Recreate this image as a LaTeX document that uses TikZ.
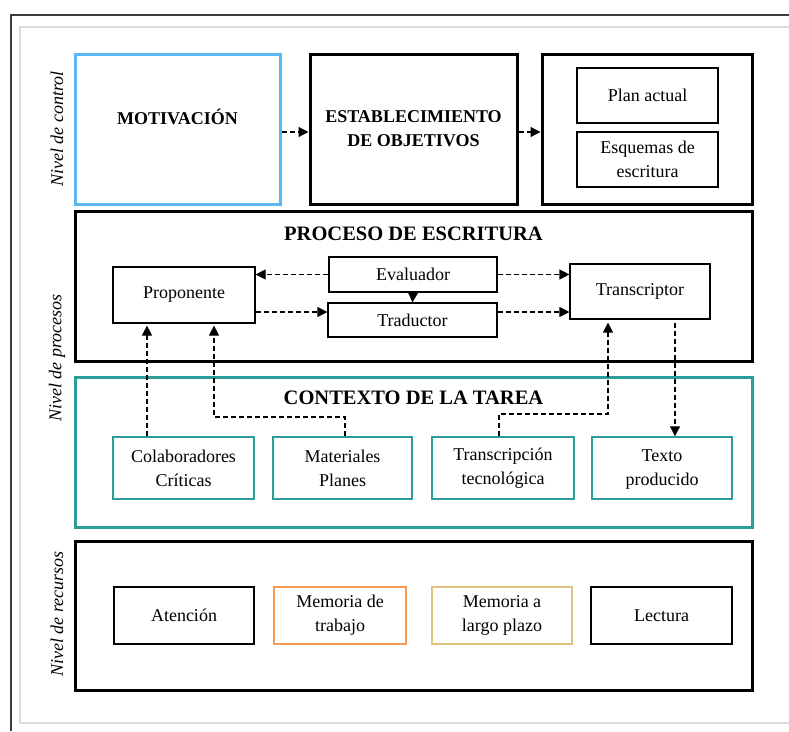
\documentclass[tikz,border=0pt]{standalone}
\usepackage{fontspec}
\setmainfont{Liberation Serif}
\usetikzlibrary{arrows.meta}

\definecolor{framedark}{HTML}{3C3C3C}
\definecolor{framelight}{HTML}{DCDCDC}
\definecolor{skyblue}{HTML}{5CB6F2}
\definecolor{tealc}{HTML}{2A9D99}
\definecolor{orangec}{HTML}{F59A55}
\definecolor{tanc}{HTML}{E2C27F}

\tikzset{
  level/.style={draw, line width=3pt, rectangle, inner sep=0pt},
  titletext/.style={font=\fontsize{20.5}{24}\selectfont\bfseries},
  bigtext/.style={font=\fontsize{18}{24}\selectfont\bfseries, align=center},
  item/.style={draw, line width=1.2pt, rectangle, align=center, inner sep=0pt,
    font=\fontsize{18}{24}\selectfont},
  ctxitem/.style={item, draw=tealc, line width=1.5pt},
  sidelabel/.style={rotate=90, font=\fontsize{18}{22}\selectfont\itshape},
  flow/.style={dashed, dash pattern=on 5pt off 3pt, line width=1.2pt,
    -{Triangle[length=10pt,width=10pt]}},
}

\begin{document}
\begin{tikzpicture}[x=1pt, y=-1pt]
\useasboundingbox (0,0) rectangle (789,731);

% page frames
\draw[framelight, line width=1.5pt] (789,27) -- (20,27) -- (20,723) -- (789,723);
\draw[framedark, line width=2pt] (11,731) -- (11,15) -- (789,15);

% level labels
\node[sidelabel] (lc) at (57,129) {Nivel de control};
\node[sidelabel] (lp) at (57,358) {Nivel de procesos};
\node[sidelabel] (lr) at (57,614) {Nivel de recursos};

% control level
\node[level, draw=skyblue, minimum width=205pt, minimum height=150pt] (motiv) at (177.5,129) {};
\node[bigtext] (motivt) at (177.5,117) {MOTIVACIÓN};
\node[level, minimum width=207pt, minimum height=150pt, bigtext] (estab) at (413.5,129) {ESTABLECIMIENTO\\DE OBJETIVOS};
\node[level, minimum width=210pt, minimum height=150pt] (planes) at (647,129) {};
\node[item, minimum width=141pt, minimum height=55pt] (plan) at (647.5,95.5) {Plan actual};
\node[item, minimum width=141pt, minimum height=55pt] (esq) at (647.5,159.5) {Esquemas de\\escritura};

\draw[flow] ([yshift=-3pt]motiv.east) -- ([yshift=-3pt]estab.west);
\draw[flow] ([yshift=-3pt]estab.east) -- ([yshift=-3pt]planes.west);

% process level
\node[level, minimum width=677pt, minimum height=150pt] (proc) at (413.5,286) {};
\node[titletext] (proct) at (413.5,234) {PROCESO DE ESCRITURA};
\node[item, minimum width=142pt, minimum height=56pt] (prop) at (184,295) {Proponente};
\node[item, minimum width=168pt, minimum height=35pt] (eval) at (413,274.5) {Evaluador};
\node[item, minimum width=169pt, minimum height=34pt] (trad) at (412.5,320) {Traductor};
\node[item, minimum width=140pt, minimum height=55pt] (trans) at (640,291.5) {Transcriptor};

\coordinate (ya) at (0,312);
\draw[flow] (eval.west) -- (prop.east |- eval.west);
\draw[flow] (prop.east |- ya) -- (trad.west |- ya);
\draw[flow] (eval.east) -- (trans.west |- eval.east);
\draw[flow] (trad.east |- ya) -- (trans.west |- ya);
\draw[flow] (eval.south) -- (trad.north);

% task context level
\node[level, draw=tealc, minimum width=677pt, minimum height=150pt] (ctx) at (413.5,452) {};
\node[titletext] (ctxt) at (413.5,398) {CONTEXTO DE LA TAREA};
\node[ctxitem, minimum width=141pt, minimum height=62pt] (colab) at (183.5,468) {Colaboradores\\Críticas};
\node[ctxitem, minimum width=139pt, minimum height=62pt] (mat) at (342.5,468) {Materiales\\Planes};
\node[ctxitem, minimum width=142pt, minimum height=62pt] (transc) at (503,468) {Transcripción\\tecnológica};
\node[ctxitem, minimum width=140pt, minimum height=62pt, text depth=0pt] (texto) at (662,468) {Texto\\producido};

\coordinate (xa) at (147,0);
\coordinate (xb) at (214,0);
\coordinate (xc) at (345,0);
\coordinate (xd) at (499,0);
\coordinate (xe) at (608,0);
\coordinate (xf) at (675,0);
\coordinate (mb) at (345,417);
\coordinate (mt) at (214,417);
\coordinate (tb) at (499,414);
\coordinate (tt) at (608,414);

\draw[flow, shorten >=2pt] (colab.north -| xa) -- (prop.south -| xa);
\draw[flow, shorten >=2pt] (mat.north -| xc) -- (mb) -- (mt) -- (prop.south -| xb);
\draw[flow, shorten >=3pt] (transc.north -| xd) -- (tb) -- (tt) -- (trans.south -| xe);
\draw[flow, shorten <=3pt] (trans.south -| xf) -- (texto.north -| xf);

% resources level
\node[level, minimum width=677pt, minimum height=149pt] (rec) at (413.5,615.5) {};
\node[item, minimum width=140pt, minimum height=57pt] (aten) at (184,615.5) {Atención};
\node[item, draw=orangec, minimum width=132pt, minimum height=57pt] (memt) at (340,615.5) {Memoria de\\trabajo};
\node[item, draw=tanc, minimum width=140pt, minimum height=57pt] (meml) at (502,615.5) {Memoria a\\largo plazo};
\node[item, minimum width=141pt, minimum height=57pt] (lect) at (661.5,615.5) {Lectura};
\end{tikzpicture}
\end{document}
